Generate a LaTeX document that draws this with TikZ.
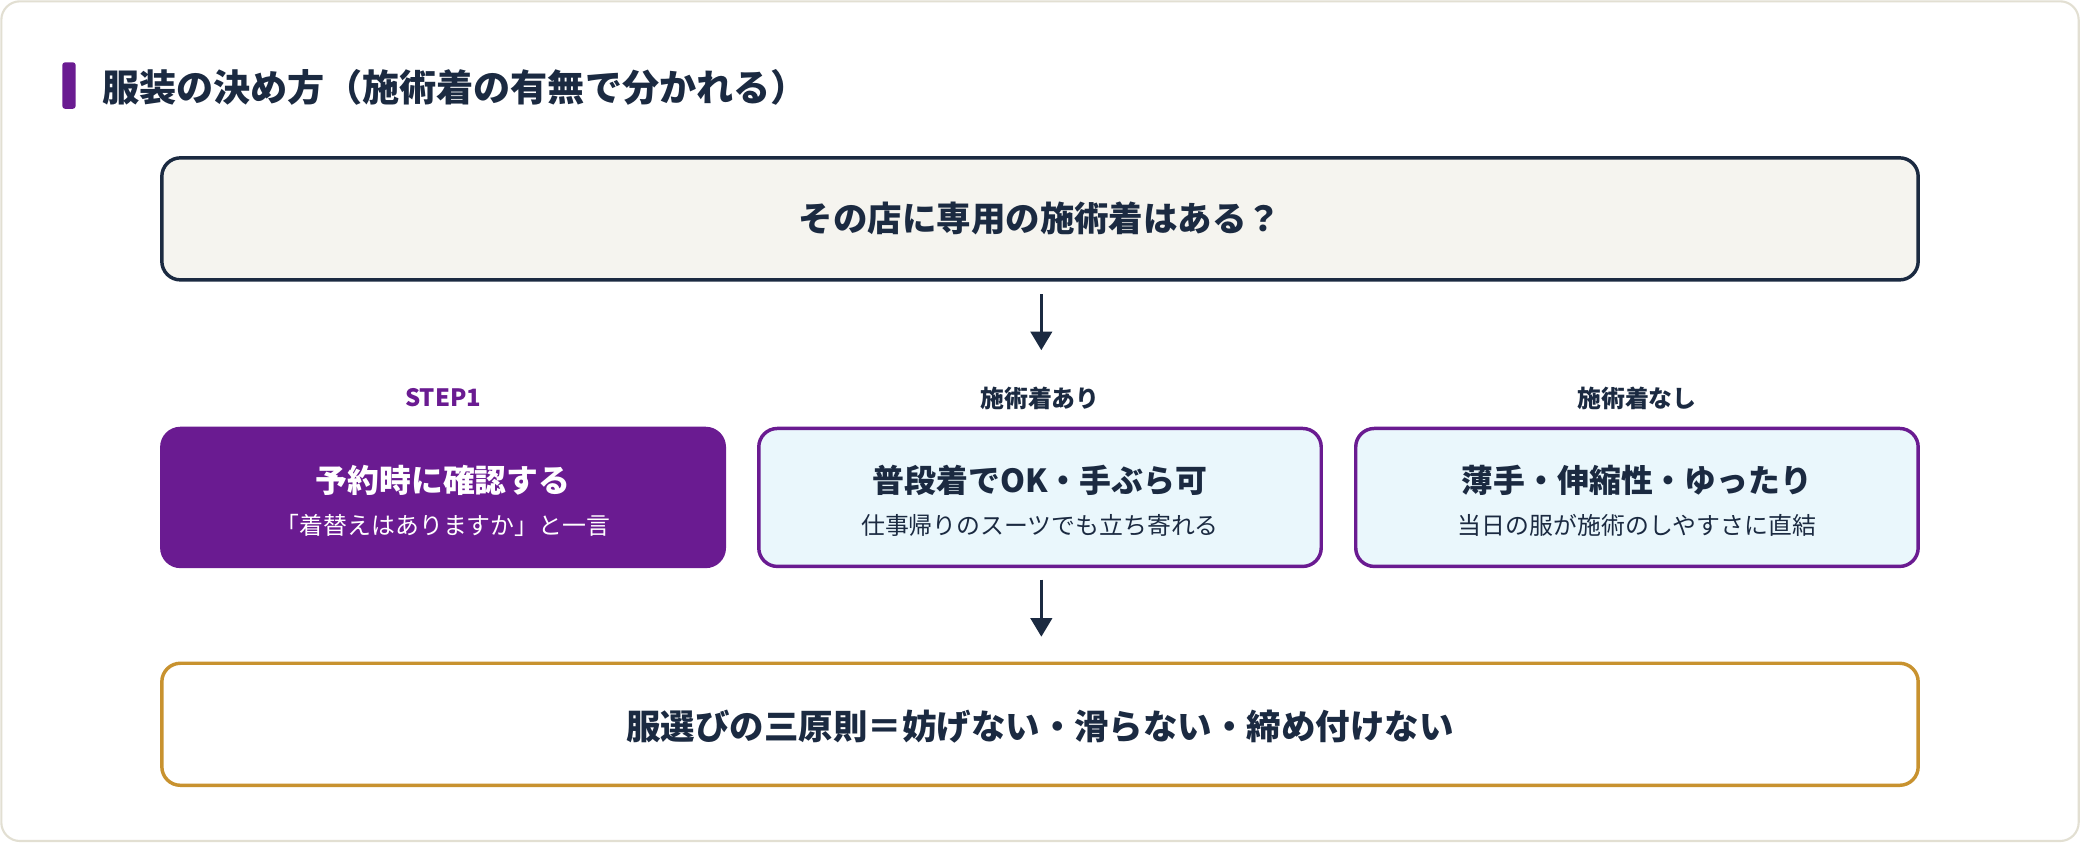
\documentclass[tikz,border=0pt]{standalone}
\usepackage{fontspec}
\setmainfont{Noto Sans CJK JP}
\usetikzlibrary{arrows.meta}
\definecolor{navy}{HTML}{1B2A41}
\definecolor{purp}{HTML}{6A1B91}
\definecolor{gold}{HTML}{C8922F}
\definecolor{cream}{HTML}{F5F4EF}
\definecolor{light}{HTML}{EAF7FC}
\definecolor{edge}{HTML}{E2DFD2}
\begin{document}
\begin{tikzpicture}[x=0.5pt,y=-0.5pt,
  box/.style={rounded corners=7pt,line width=1.3pt},
  arr/.style={draw=navy,line width=1.3pt,-{Triangle[length=7pt,width=8pt]}},
  lab/.style={font=\bfseries\fontsize{9}{11}\selectfont,text=navy},
  mt/.style={font=\bfseries\fontsize{12}{14}\selectfont},
  st/.style={font=\fontsize{9}{11}\selectfont}]
\useasboundingbox (0,0) rectangle (1568,635);
\draw[edge,fill=white,rounded corners=7pt,line width=0.8pt] (1,1) rectangle (1567,634);
\fill[purp,rounded corners=1pt] (47,47) rectangle (57,82);
\node[anchor=west,font=\bfseries\fontsize{14}{16}\selectfont,text=navy] (title) at (70,66) {服装の決め方（施術着の有無で分かれる）};
\draw[box,draw=navy,fill=cream] (122,119) rectangle (1446,211);
\node[font=\bfseries\fontsize{13}{15}\selectfont,text=navy] (q) at (784,165) {その店に専用の施術着はある？};
\coordinate (a1s) at (785,222); \coordinate (a1e) at (785,264);
\draw[arr] (a1s) -- (a1e);
\node[lab,text=purp] (l1) at (334,300) {STEP1};
\node[lab] (l2) at (784,300) {施術着あり};
\node[lab] (l3) at (1234,300) {施術着なし};
\draw[box,draw=purp,fill=purp] (122,323) rectangle (546,427);
\draw[box,draw=purp,fill=light] (572,323) rectangle (996,427);
\draw[box,draw=purp,fill=light] (1022,323) rectangle (1446,427);
\node[mt,text=white] (m1) at (334,362) {予約時に確認する};
\node[st,text=white] (s1) at (334,396) {「着替えはありますか」と一言};
\node[mt,text=navy] (m2) at (784,362) {普段着でOK・手ぶら可};
\node[st,text=navy] (s2) at (784,396) {仕事帰りのスーツでも立ち寄れる};
\node[mt,text=navy] (m3) at (1234,362) {薄手・伸縮性・ゆったり};
\node[st,text=navy] (s3) at (1234,396) {当日の服が施術のしやすさに直結};
\coordinate (a2s) at (785,437); \coordinate (a2e) at (785,480);
\draw[arr] (a2s) -- (a2e);
\draw[box,draw=gold,fill=white] (122,500) rectangle (1446,592);
\node[font=\bfseries\fontsize{13}{15}\selectfont,text=navy] (b) at (784,548) {服選びの三原則＝妨げない・滑らない・締め付けない};
\end{tikzpicture}
\end{document}
